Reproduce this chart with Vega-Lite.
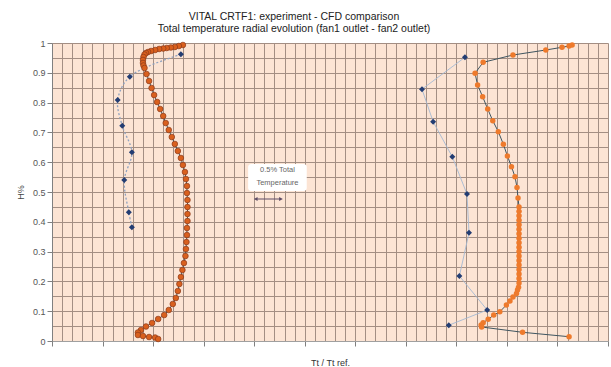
{
  "$schema": "https://vega.github.io/schema/vega-lite/v6.json",
  "width": 556,
  "height": 298,
  "autosize": {"type": "none"},
  "padding": {"left": 52, "top": 43, "right": 3, "bottom": 26},
  "background": "white",
  "config": {
    "view": {"fill": "#FCE4D4", "stroke": null},
    "font": "Liberation Sans"
  },
  "title": {
    "text": ["VITAL  CRTF1:  experiment - CFD comparison", "Total temperature radial evolution (fan1 outlet - fan2 outlet)"],
    "font": "Liberation Sans",
    "fontSize": 10.5,
    "fontWeight": "normal",
    "color": "#222222",
    "lineHeight": 12,
    "offset": 5,
    "dx": -36
  },
  "datasets": {
    "profiles": [
      {"s": "exp1", "i": 1, "tt": 0.9855, "h": 0.962},
      {"s": "exp1", "i": 2, "tt": 0.9754, "h": 0.887},
      {"s": "exp1", "i": 3, "tt": 0.9730, "h": 0.809},
      {"s": "exp1", "i": 4, "tt": 0.9739, "h": 0.722},
      {"s": "exp1", "i": 5, "tt": 0.9758, "h": 0.633},
      {"s": "exp1", "i": 6, "tt": 0.9743, "h": 0.540},
      {"s": "exp1", "i": 7, "tt": 0.9752, "h": 0.432},
      {"s": "exp1", "i": 8, "tt": 0.9758, "h": 0.382},

      {"s": "exp2", "i": 1, "tt": 1.0417, "h": 0.952},
      {"s": "exp2", "i": 2, "tt": 1.0332, "h": 0.845},
      {"s": "exp2", "i": 3, "tt": 1.0354, "h": 0.736},
      {"s": "exp2", "i": 4, "tt": 1.0392, "h": 0.618},
      {"s": "exp2", "i": 5, "tt": 1.0421, "h": 0.493},
      {"s": "exp2", "i": 6, "tt": 1.0425, "h": 0.363},
      {"s": "exp2", "i": 7, "tt": 1.0406, "h": 0.218},
      {"s": "exp2", "i": 8, "tt": 1.0461, "h": 0.104},
      {"s": "exp2", "i": 9, "tt": 1.0385, "h": 0.053},

      {"s": "cfd1", "i": 1, "tt": 0.9859, "h": 0.9933},
      {"s": "cfd1", "i": 2, "tt": 0.9851, "h": 0.9899},
      {"s": "cfd1", "i": 3, "tt": 0.9843, "h": 0.9866},
      {"s": "cfd1", "i": 4, "tt": 0.9835, "h": 0.9849},
      {"s": "cfd1", "i": 5, "tt": 0.9827, "h": 0.9832},
      {"s": "cfd1", "i": 6, "tt": 0.9820, "h": 0.9815},
      {"s": "cfd1", "i": 7, "tt": 0.9812, "h": 0.9799},
      {"s": "cfd1", "i": 8, "tt": 0.9804, "h": 0.9765},
      {"s": "cfd1", "i": 9, "tt": 0.9796, "h": 0.9732},
      {"s": "cfd1", "i": 10, "tt": 0.9790, "h": 0.9698},
      {"s": "cfd1", "i": 11, "tt": 0.9786, "h": 0.9664},
      {"s": "cfd1", "i": 12, "tt": 0.9783, "h": 0.9614},
      {"s": "cfd1", "i": 13, "tt": 0.9781, "h": 0.9530},
      {"s": "cfd1", "i": 14, "tt": 0.9780, "h": 0.9430},
      {"s": "cfd1", "i": 15, "tt": 0.9780, "h": 0.9329},
      {"s": "cfd1", "i": 16, "tt": 0.9781, "h": 0.9245},
      {"s": "cfd1", "i": 17, "tt": 0.9783, "h": 0.9161},
      {"s": "cfd1", "i": 18, "tt": 0.9787, "h": 0.8960},
      {"s": "cfd1", "i": 19, "tt": 0.9792, "h": 0.8725},
      {"s": "cfd1", "i": 20, "tt": 0.9797, "h": 0.8490},
      {"s": "cfd1", "i": 21, "tt": 0.9802, "h": 0.8255},
      {"s": "cfd1", "i": 22, "tt": 0.9808, "h": 0.8020},
      {"s": "cfd1", "i": 23, "tt": 0.9814, "h": 0.7785},
      {"s": "cfd1", "i": 24, "tt": 0.9820, "h": 0.7550},
      {"s": "cfd1", "i": 25, "tt": 0.9825, "h": 0.7315},
      {"s": "cfd1", "i": 26, "tt": 0.9831, "h": 0.7081},
      {"s": "cfd1", "i": 27, "tt": 0.9837, "h": 0.6846},
      {"s": "cfd1", "i": 28, "tt": 0.9843, "h": 0.6611},
      {"s": "cfd1", "i": 29, "tt": 0.9849, "h": 0.6376},
      {"s": "cfd1", "i": 30, "tt": 0.9855, "h": 0.6141},
      {"s": "cfd1", "i": 31, "tt": 0.9859, "h": 0.5906},
      {"s": "cfd1", "i": 32, "tt": 0.9863, "h": 0.5671},
      {"s": "cfd1", "i": 33, "tt": 0.9865, "h": 0.5436},
      {"s": "cfd1", "i": 34, "tt": 0.9867, "h": 0.5201},
      {"s": "cfd1", "i": 35, "tt": 0.9867, "h": 0.4966},
      {"s": "cfd1", "i": 36, "tt": 0.9868, "h": 0.4732},
      {"s": "cfd1", "i": 37, "tt": 0.9868, "h": 0.4497},
      {"s": "cfd1", "i": 38, "tt": 0.9868, "h": 0.4262},
      {"s": "cfd1", "i": 39, "tt": 0.9868, "h": 0.4027},
      {"s": "cfd1", "i": 40, "tt": 0.9867, "h": 0.3792},
      {"s": "cfd1", "i": 41, "tt": 0.9867, "h": 0.3557},
      {"s": "cfd1", "i": 42, "tt": 0.9866, "h": 0.3322},
      {"s": "cfd1", "i": 43, "tt": 0.9865, "h": 0.3087},
      {"s": "cfd1", "i": 44, "tt": 0.9864, "h": 0.2852},
      {"s": "cfd1", "i": 45, "tt": 0.9861, "h": 0.2617},
      {"s": "cfd1", "i": 46, "tt": 0.9858, "h": 0.2383},
      {"s": "cfd1", "i": 47, "tt": 0.9855, "h": 0.2148},
      {"s": "cfd1", "i": 48, "tt": 0.9852, "h": 0.1913},
      {"s": "cfd1", "i": 49, "tt": 0.9849, "h": 0.1678},
      {"s": "cfd1", "i": 50, "tt": 0.9845, "h": 0.1443},
      {"s": "cfd1", "i": 51, "tt": 0.9839, "h": 0.1242},
      {"s": "cfd1", "i": 52, "tt": 0.9831, "h": 0.1040},
      {"s": "cfd1", "i": 53, "tt": 0.9822, "h": 0.0872},
      {"s": "cfd1", "i": 54, "tt": 0.9810, "h": 0.0738},
      {"s": "cfd1", "i": 55, "tt": 0.9798, "h": 0.0604},
      {"s": "cfd1", "i": 56, "tt": 0.9786, "h": 0.0487},
      {"s": "cfd1", "i": 57, "tt": 0.9776, "h": 0.0369},
      {"s": "cfd1", "i": 58, "tt": 0.9770, "h": 0.0285},
      {"s": "cfd1", "i": 59, "tt": 0.9770, "h": 0.0201},
      {"s": "cfd1", "i": 60, "tt": 0.9780, "h": 0.0168},
      {"s": "cfd1", "i": 61, "tt": 0.9792, "h": 0.0134},
      {"s": "cfd1", "i": 62, "tt": 0.9804, "h": 0.0117},
      {"s": "cfd1", "i": 63, "tt": 0.9810, "h": 0.0067},

      {"s": "cfd2", "i": 1, "tt": 1.0629, "h": 0.9933},
      {"s": "cfd2", "i": 2, "tt": 1.0623, "h": 0.9899},
      {"s": "cfd2", "i": 3, "tt": 1.0609, "h": 0.9856},
      {"s": "cfd2", "i": 4, "tt": 1.0577, "h": 0.9765},
      {"s": "cfd2", "i": 5, "tt": 1.0512, "h": 0.9597},
      {"s": "cfd2", "i": 6, "tt": 1.0453, "h": 0.9352},
      {"s": "cfd2", "i": 7, "tt": 1.0437, "h": 0.8983},
      {"s": "cfd2", "i": 8, "tt": 1.0442, "h": 0.8591},
      {"s": "cfd2", "i": 9, "tt": 1.0452, "h": 0.8198},
      {"s": "cfd2", "i": 10, "tt": 1.0462, "h": 0.7785},
      {"s": "cfd2", "i": 11, "tt": 1.0472, "h": 0.7393},
      {"s": "cfd2", "i": 12, "tt": 1.0483, "h": 0.7023},
      {"s": "cfd2", "i": 13, "tt": 1.0493, "h": 0.6601},
      {"s": "cfd2", "i": 14, "tt": 1.0501, "h": 0.6208},
      {"s": "cfd2", "i": 15, "tt": 1.0509, "h": 0.5849},
      {"s": "cfd2", "i": 16, "tt": 1.0516, "h": 0.5513},
      {"s": "cfd2", "i": 17, "tt": 1.0520, "h": 0.5151},
      {"s": "cfd2", "i": 18, "tt": 1.0522, "h": 0.4799},
      {"s": "cfd2", "i": 19, "tt": 1.0524, "h": 0.4497},
      {"s": "cfd2", "i": 20, "tt": 1.0524, "h": 0.435},
      {"s": "cfd2", "i": 21, "tt": 1.0524, "h": 0.420},
      {"s": "cfd2", "i": 22, "tt": 1.0524, "h": 0.405},
      {"s": "cfd2", "i": 23, "tt": 1.0524, "h": 0.390},
      {"s": "cfd2", "i": 24, "tt": 1.0524, "h": 0.375},
      {"s": "cfd2", "i": 25, "tt": 1.0524, "h": 0.360},
      {"s": "cfd2", "i": 26, "tt": 1.0524, "h": 0.345},
      {"s": "cfd2", "i": 27, "tt": 1.0524, "h": 0.330},
      {"s": "cfd2", "i": 28, "tt": 1.0524, "h": 0.315},
      {"s": "cfd2", "i": 29, "tt": 1.0524, "h": 0.300},
      {"s": "cfd2", "i": 30, "tt": 1.0524, "h": 0.285},
      {"s": "cfd2", "i": 31, "tt": 1.0524, "h": 0.270},
      {"s": "cfd2", "i": 32, "tt": 1.0524, "h": 0.255},
      {"s": "cfd2", "i": 33, "tt": 1.0524, "h": 0.240},
      {"s": "cfd2", "i": 34, "tt": 1.0524, "h": 0.225},
      {"s": "cfd2", "i": 35, "tt": 1.0524, "h": 0.210},
      {"s": "cfd2", "i": 36, "tt": 1.0524, "h": 0.195},
      {"s": "cfd2", "i": 37, "tt": 1.0523, "h": 0.180},
      {"s": "cfd2", "i": 38, "tt": 1.0521, "h": 0.1711},
      {"s": "cfd2", "i": 39, "tt": 1.0519, "h": 0.1594},
      {"s": "cfd2", "i": 40, "tt": 1.0512, "h": 0.1477},
      {"s": "cfd2", "i": 41, "tt": 1.0506, "h": 0.1342},
      {"s": "cfd2", "i": 42, "tt": 1.0499, "h": 0.1208},
      {"s": "cfd2", "i": 43, "tt": 1.0486, "h": 0.0983},
      {"s": "cfd2", "i": 44, "tt": 1.0474, "h": 0.0872},
      {"s": "cfd2", "i": 45, "tt": 1.0463, "h": 0.0728},
      {"s": "cfd2", "i": 46, "tt": 1.0453, "h": 0.0614},
      {"s": "cfd2", "i": 47, "tt": 1.0449, "h": 0.0537},
      {"s": "cfd2", "i": 48, "tt": 1.0450, "h": 0.0470},
      {"s": "cfd2", "i": 49, "tt": 1.0531, "h": 0.0292},
      {"s": "cfd2", "i": 50, "tt": 1.0623, "h": 0.0144}
    ],
    "box": [{"tt": 0.9988, "tt2": 1.0104, "h": 0.5940, "h2": 0.5030}],
    "note": [
      {"label": "0.5% Total", "tt": 1.0046, "h": 0.5740},
      {"label": "Temperature", "tt": 1.0046, "h": 0.5300}
    ],
    "span": [{"tt": 1.0003, "tt2": 1.0053, "h": 0.4765}],
    "heads": [
      {"end": "left", "tt": 1.0003, "h": 0.4765},
      {"end": "right", "tt": 1.0053, "h": 0.4765}
    ]
  },
  "encoding": {
    "x": {
      "field": "tt",
      "type": "quantitative",
      "scale": {"domain": [0.96, 1.07], "nice": false, "zero": false},
      "axis": {
        "title": "Tt / Tt ref.",
        "titleFont": "Liberation Sans",
        "titleFontSize": 9,
        "titleFontWeight": "normal",
        "titleColor": "#333333",
        "titlePadding": 12,
        "tickCount": 55,
        "labels": false,
        "grid": true,
        "gridColor": "#A38E83",
        "gridWidth": 1,
        "ticks": true,
        "tickSize": 5,
        "tickColor": "#808080",
        "tickOpacity": {"condition": {"test": "abs(datum.value*100 - round(datum.value*100)) < 0.01", "value": 1}, "value": 0},
        "domainColor": "#A0A0A0"
      }
    },
    "y": {
      "field": "h",
      "type": "quantitative",
      "scale": {"domain": [0, 1], "nice": false},
      "axis": {
        "title": "H%",
        "titleFont": "Liberation Sans",
        "titleFontSize": 9,
        "titleFontWeight": "normal",
        "titleColor": "#444444",
        "titlePadding": 7,
        "tickCount": 20,
        "format": ".2~f",
        "labelExpr": "abs(datum.value*10 - round(datum.value*10)) < 0.01 ? datum.label : ''",
        "labelFont": "Liberation Sans",
        "labelFontSize": 9,
        "labelColor": "#555555",
        "labelPadding": 2,
        "labelOverlap": false,
        "grid": true,
        "gridColor": "#A38E83",
        "gridWidth": 1,
        "ticks": true,
        "tickSize": 5,
        "tickColor": "#808080",
        "tickOpacity": {"condition": {"test": "abs(datum.value*10 - round(datum.value*10)) < 0.01", "value": 1}, "value": 0},
        "domainColor": "#808080"
      }
    }
  },
  "layer": [
    {
      "data": {"name": "box"},
      "mark": {"type": "rect", "fill": "white", "cornerRadius": 3},
      "encoding": {"x2": {"field": "tt2"}, "y2": {"field": "h2"}}
    },
    {
      "data": {"name": "note"},
      "mark": {"type": "text", "font": "Liberation Sans", "fontSize": 7.5, "color": "#666666", "align": "center", "baseline": "middle"},
      "encoding": {"text": {"field": "label"}}
    },
    {
      "data": {"name": "span"},
      "mark": {"type": "rule", "color": "#5E4C66", "strokeWidth": 1},
      "encoding": {"x2": {"field": "tt2"}}
    },
    {
      "data": {"name": "heads"},
      "transform": [{"filter": "datum.end === 'left'"}],
      "mark": {"type": "point", "shape": "triangle-left", "filled": true, "size": 18, "color": "#5E4C66", "opacity": 1},
      "encoding": {}
    },
    {
      "data": {"name": "heads"},
      "transform": [{"filter": "datum.end === 'right'"}],
      "mark": {"type": "point", "shape": "triangle-right", "filled": true, "size": 18, "color": "#5E4C66", "opacity": 1},
      "encoding": {}
    },
    {
      "data": {"name": "profiles"},
      "transform": [{"filter": "datum.s === 'exp1'"}],
      "mark": {"type": "line", "interpolate": "catmull-rom", "color": "#8FA2C0", "strokeDash": [2, 2], "strokeWidth": 1.3},
      "encoding": {"order": {"field": "i", "type": "quantitative"}}
    },
    {
      "data": {"name": "profiles"},
      "transform": [{"filter": "datum.s === 'exp2'"}],
      "mark": {"type": "line", "color": "#A3B8D2", "strokeWidth": 0.9},
      "encoding": {"order": {"field": "i", "type": "quantitative"}}
    },
    {
      "data": {"name": "profiles"},
      "transform": [{"filter": "datum.s === 'cfd1' || datum.s === 'cfd2'"}],
      "mark": {"type": "line", "color": "#3F5560", "strokeWidth": 1},
      "encoding": {
        "detail": {"field": "s", "type": "nominal"},
        "order": {"field": "i", "type": "quantitative"}
      }
    },
    {
      "data": {"name": "profiles"},
      "transform": [{"filter": "datum.s === 'cfd1'"}],
      "mark": {"type": "point", "shape": "circle", "filled": true, "size": 32, "fill": "#D9601E", "stroke": "#8B3A1A", "strokeWidth": 0.7, "opacity": 1},
      "encoding": {}
    },
    {
      "data": {"name": "profiles"},
      "transform": [{"filter": "datum.s === 'cfd2'"}],
      "mark": {"type": "point", "shape": "circle", "filled": true, "size": 30, "fill": "#EE7A2C", "opacity": 1},
      "encoding": {}
    },
    {
      "data": {"name": "profiles"},
      "transform": [{"filter": "datum.s === 'exp1' || datum.s === 'exp2'"}],
      "mark": {"type": "point", "shape": "diamond", "filled": true, "size": 36, "fill": "#233D73", "opacity": 1},
      "encoding": {}
    }
  ]
}
